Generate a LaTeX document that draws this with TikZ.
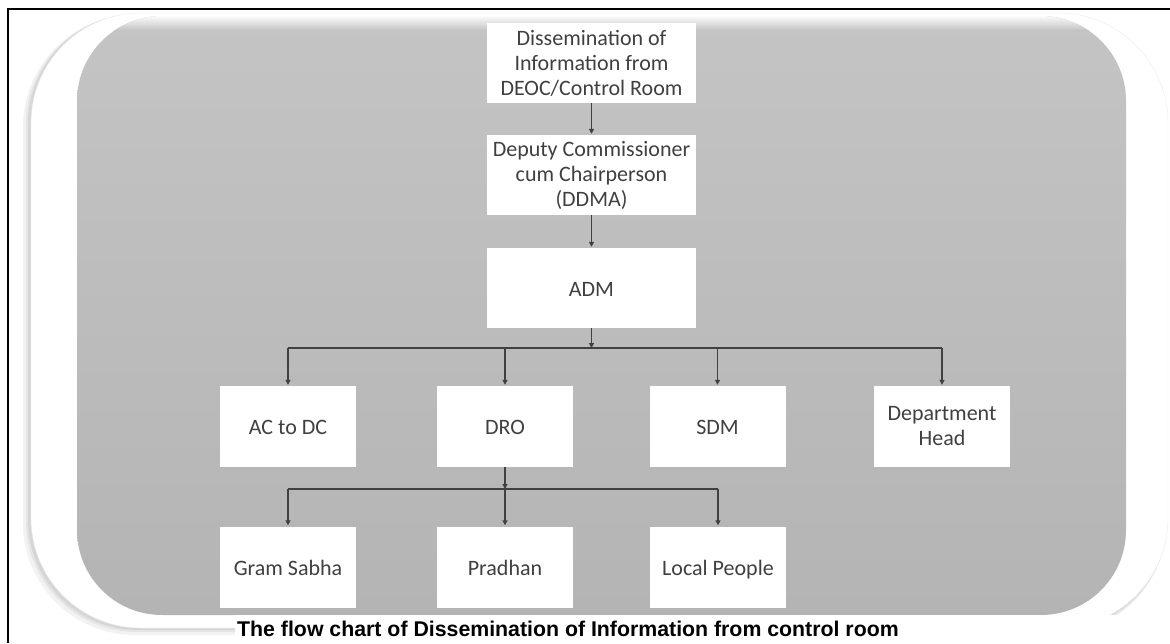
\documentclass[tikz,border=0pt]{standalone}
\usepackage{fontspec}
\setmainfont{Carlito}
\newfontfamily\capfont{Liberation Sans}
\usetikzlibrary{arrows.meta}
\definecolor{txt}{RGB}{64,64,64}
\definecolor{panTop}{RGB}{196,196,196}
\definecolor{panBot}{RGB}{180,180,180}
\begin{document}
\begin{tikzpicture}[x=1pt, y=-1pt,
    box/.style={fill=white, minimum width=209pt, minimum height=80pt, inner sep=0pt,
                align=center, text=txt, font=\fontsize{22}{25}\selectfont},
    smallbox/.style={box, minimum width=136pt, minimum height=81pt},
    oneline/.style={text height=16pt, text depth=0pt},
    arr/.style={draw=txt, line width=1.2pt, -{Triangle[length=5pt,width=5pt]}, shorten >=1pt},
    bus/.style={draw=txt, line width=1.2pt}]

    \useasboundingbox (0,0) rectangle (1170,643);
    \fill[white] (0,0) rectangle (1170,643);

    % shadow card
    \fill[gray!10, rounded corners=112pt] (23,15) rectangle (1166,635);
    \fill[gray!20, rounded corners=111pt] (26,14) rectangle (1167,632);
    \fill[gray!32, rounded corners=110pt] (28,14) rectangle (1167,630);
    \fill[white, draw=gray!15, rounded corners=110pt] (31,13) rectangle (1168,628);

    % gray panel
    \shade[top color=panTop, bottom color=panBot, rounded corners=85pt] (77,16) rectangle (1126,615);
    \begin{scope}
        \clip[rounded corners=85pt] (77,16) rectangle (1126,615);
        \shade[top color=white, bottom color=panTop] (77,15) rectangle (1126,30);
    \end{scope}

    % frame
    \draw[black, line width=1.5pt] (8,643) -- (8,9) -- (1170,9);

    % top chain
    \node[box] (src) at (591.5,63) {Dissemination of\\Information from\\DEOC/Control Room};
    \node[box] (dc) at (591.5,175) {Deputy Commissioner\\cum Chairperson\\(DDMA)};
    \node[box, oneline] (adm) at (591.5,288) {ADM};

    % second row
    \node[smallbox, oneline] (acdc) at (288,426.5) {AC to DC};
    \node[smallbox, oneline] (dro) at (505,426.5) {DRO};
    \node[smallbox, oneline] (sdm) at (717.5,426.5) {SDM};
    \node[smallbox] (dept) at (942,426.5) {Department\\Head};

    % third row
    \node[smallbox, oneline] (gram) at (288,567) {Gram Sabha};
    \node[smallbox, oneline] (pradhan) at (505,567) {Pradhan};
    \node[smallbox, oneline] (local) at (718,567) {Local People};

    % arrows
    \coordinate (bus1) at (591.5,348);
    \coordinate (bus2) at (505,489);
    \draw[arr] (src) -- (dc);
    \draw[arr] (dc) -- (adm);
    \draw[arr, shorten >=0pt] (adm) -- (adm |- bus1);
    \draw[bus] (bus1 -| acdc) -- (bus1 -| dept);
    \foreach \n in {acdc,dro,sdm,dept}
        \draw[arr] (bus1 -| \n) -- (\n);
    \draw[arr, shorten >=0pt] (dro) -- (bus2);
    \draw[bus] (bus2 -| gram) -- (bus2 -| local);
    \foreach \n in {gram,pradhan,local}
        \draw[arr] (bus2 -| \n) -- (\n);

    % caption
    \fill[white] (235,615) rectangle (1170,643);
    \node[anchor=base west, inner sep=0pt, font=\capfont\bfseries\fontsize{21.3}{25}\selectfont] (cap) at (237,636)
        {The flow chart of Dissemination of Information from control room};

\end{tikzpicture}
\end{document}
